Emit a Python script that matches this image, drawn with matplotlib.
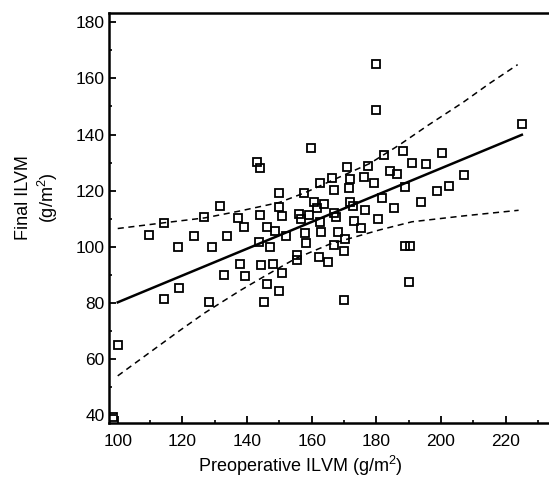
import numpy as np
import matplotlib
matplotlib.use('Agg')
import matplotlib.pyplot as plt
from matplotlib.ticker import MultipleLocator

plt.rcParams['font.family'] = ['Liberation Sans', 'DejaVu Sans']
plt.rcParams['mathtext.fontset'] = 'custom'
plt.rcParams['mathtext.rm'] = 'Liberation Sans'
plt.rcParams['mathtext.it'] = 'Liberation Sans:italic'

# preoperative vs final ILVM
pre_ilvm = [109.6, 114.4, 118.7, 123.6, 126.7, 129.1, 131.7, 133.9, 137.1, 139.1,
            143.2, 144.0, 144.0, 143.8, 146.1, 147.2, 148.7, 150.0, 150.0, 150.9,
            152.1, 156.1, 156.6, 157.7, 157.8, 158.1, 155.3, 155.3, 159.1, 159.8,
            160.8, 161.5, 162.5, 162.5, 162.8, 163.9, 162.2, 165.0, 166.2, 167.0,
            167.0, 167.6, 167.0, 168.2, 169.9, 170.3, 171.0, 171.4, 171.9, 171.9,
            172.7, 173.1, 175.3, 176.3, 176.6, 177.5, 179.3, 180.6, 181.7, 182.4,
            184.3, 185.4, 186.3, 188.1, 188.9, 189.0, 190.3, 190.0, 191.1, 193.7,
            195.5, 198.7, 200.4, 202.4, 207.2, 225.1, 179.9, 179.9,
            100.1, 114.2, 119.0, 128.3, 145.2, 146.1, 150.0, 169.9, 98.6,
            132.8, 137.7, 139.4, 144.2, 148.1, 150.9]
final_ilvm = [104.3, 108.3, 99.9, 104.0, 110.5, 99.9, 114.6, 104.0, 110.3, 107.2,
              130.1, 128.2, 111.2, 101.6, 107.0, 99.9, 105.6, 119.2, 114.2, 111.0,
              103.9, 111.8, 109.8, 119.1, 104.8, 101.5, 97.2, 95.3, 111.2, 135.1,
              115.9, 113.7, 122.8, 108.8, 105.3, 115.3, 96.4, 94.6, 124.5, 120.3,
              112.2, 110.5, 100.7, 105.3, 98.5, 102.7, 128.6, 120.9, 124.0, 116.0,
              114.6, 109.2, 106.6, 125.0, 113.1, 128.8, 122.9, 109.8, 117.2, 132.7,
              126.9, 113.8, 125.8, 134.1, 121.2, 100.3, 100.3, 87.5, 129.7, 115.8,
              129.5, 119.9, 133.5, 121.6, 125.5, 143.9, 165.0, 148.9,
              65.0, 81.4, 85.3, 80.2, 80.2, 86.6, 84.2, 80.9, 39.3,
              89.9, 93.8, 89.5, 93.4, 94.0, 90.5]

# regression line and dashed band
fit_x = [100, 225]
fit_y = [80.2, 139.9]
upper_x = [100, 114, 127, 138, 150, 158, 167, 178, 187, 196, 207, 215, 223.7]
upper_y = [106.5, 108.5, 110.3, 112.8, 115.8, 119.3, 124.0, 129.7, 136.2, 143.3, 151.6, 158.2, 164.9]
lower_x = [100, 119, 127, 138, 146, 155, 165.5, 181, 191, 207, 224]
lower_y = [54.0, 70.0, 76.5, 84.5, 89.9, 95.8, 100.9, 106.0, 108.9, 111.0, 113.0]

fig = plt.figure(figsize=(5.49, 4.8), dpi=100)
ax = fig.add_axes([109/549, 1 - 423/480, 1 - 109/549, (423 - 13)/480])

ax.plot(pre_ilvm, final_ilvm, 's', ms=5.5, mfc='none', mec='black', mew=1.3)
ax.plot(fit_x, fit_y, '-', color='black', lw=1.8)
ax.plot(upper_x, upper_y, '--', color='black', lw=1.1, dashes=(4, 3))
ax.plot(lower_x, lower_y, '--', color='black', lw=1.1, dashes=(4, 3))

ax.set_xlim(97.3, 233.4)
ax.set_ylim(37.2, 183.3)
ax.xaxis.set_major_locator(MultipleLocator(20))
ax.xaxis.set_minor_locator(MultipleLocator(10))
ax.yaxis.set_major_locator(MultipleLocator(20))
ax.yaxis.set_minor_locator(MultipleLocator(10))
ax.tick_params(which='major', direction='in', length=5, width=1.3, labelsize=12.5)
ax.tick_params(which='minor', direction='in', length=2.5, width=1.2)
ax.tick_params(axis='x', pad=8)
ax.tick_params(axis='y', pad=3)

for side in ['left', 'bottom', 'top']:
    ax.spines[side].set_linewidth(1.8)
ax.spines['right'].set_visible(False)

ax.set_xlabel('Preoperative ILVM (g/m$^2$)', fontsize=13)
ax.set_ylabel('Final ILVM\n(g/m$^2$)', fontsize=13)
ax.xaxis.set_label_coords(0.434, -0.076)
ax.yaxis.set_label_coords(-0.112, 0.55)

fig.savefig('out.png', dpi=100)
